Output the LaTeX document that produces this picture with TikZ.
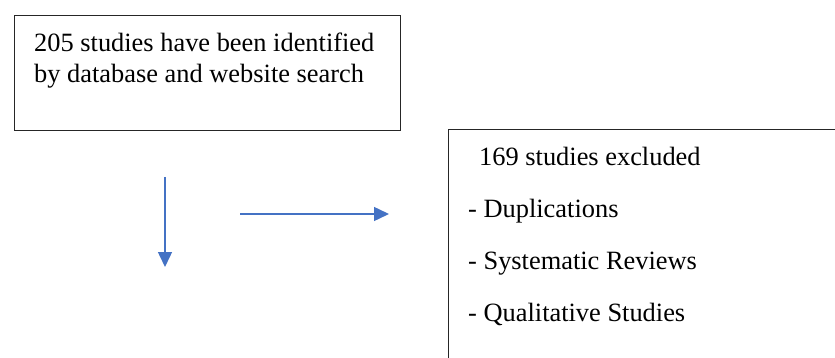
\documentclass[tikz,border=0pt]{standalone}
\usepackage{fontspec}
\setmainfont{Liberation Serif}
\usetikzlibrary{arrows.meta}
\definecolor{arrowblue}{HTML}{4472C4}
\definecolor{boxline}{HTML}{262626}
\begin{document}
\begin{tikzpicture}[x=1pt,y=-1pt,
  boxframe/.style={draw=boxline,line width=1pt},
  txt/.style={anchor=base west,inner sep=0pt,font=\fontsize{26.4}{30}\selectfont},
  flow/.style={draw=arrowblue,line width=1.5pt,-{Triangle[length=15pt,width=14pt]}}]
\useasboundingbox (0,0) rectangle (835,358);
\clip (0,0) rectangle (835,358);
% left box
\draw[boxframe] (14,16) rectangle (400,131);
\node[txt] (l1) at (34,52) {205 studies have been identified};
\node[txt] (l2) at (34,82.5) {by database and website search};
% right box (cut off by the page edge)
\draw[boxframe] (448,130) rectangle (860,380);
\node[txt] (r1) at (479,166) {169 studies excluded};
\node[txt] (r2) at (468,218) {- Duplications};
\node[txt] (r3) at (468,269.5) {- Systematic Reviews};
\node[txt] (r4) at (468,321) {- Qualitative Studies};
% arrows
\coordinate (v1) at (165,177);
\coordinate (v2) at (165,267);
\coordinate (h1) at (240,214);
\coordinate (h2) at (389,214);
\draw[flow] (v1) -- (v2);
\draw[flow] (h1) -- (h2);
\end{tikzpicture}
\end{document}
